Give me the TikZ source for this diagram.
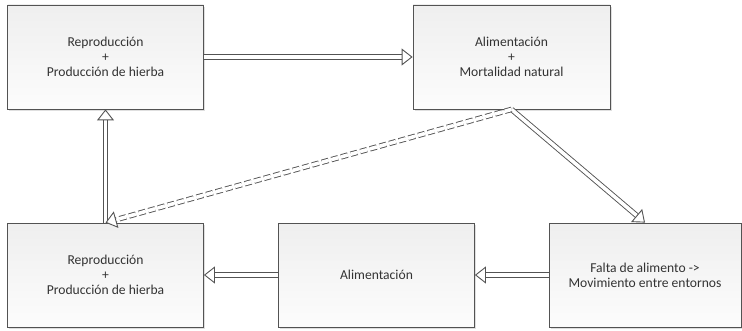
\documentclass[tikz,border=0pt]{standalone}
\usepackage{fontspec}
\setmainfont{Carlito}
\usetikzlibrary{arrows.meta,shadows}

\colorlet{edge}{gray!65!black}

\tikzset{
  stagebox/.style={draw=edge, line width=0.8pt, minimum width=196pt,
    minimum height=104pt, inner sep=0pt, align=center, text=black!80,
    top color=gray!13, bottom color=gray!2,
    drop shadow={shadow xshift=1.6pt, shadow yshift=-1.6pt, opacity=0.25}},
  shaft/.style={draw=edge, line width=0.9pt, double=white, double distance=3.6pt,
    shorten >=5pt},
  shaftdash/.style={shaft, dash pattern=on 7pt off 3pt},
  head/.style={draw=white, line width=1.5pt,
    -{Triangle[open, fill=white, color=edge, line width=0.9pt, length=11pt, width=17pt]}}
}

\begin{document}
\begin{tikzpicture}[x=1pt, y=1pt, font=\fontsize{13.6}{15}\selectfont]

\useasboundingbox (0,0) rectangle (742,330);

\def\rowA{273}   % top row
\def\rowB{55}    % bottom row

% top row
\node[stagebox] (repro1) at (105.5, \rowA) {Reproducción\\+\\Producción de hierba};
\node[stagebox, minimum width=197pt] (alim1) at (511.5, \rowA) {Alimentación\\+\\Mortalidad natural};

% bottom row
\node[stagebox] (repro2) at (105.5, \rowB) {Reproducción\\+\\Producción de hierba};
\node[stagebox] (alim2) at (376.5, \rowB) {Alimentación};
\node[stagebox, minimum width=192pt] (falta) at (645, \rowB) {Falta de alimento ->\\Movimiento entre entornos};

% connectors: double shaft, then open head on top
\foreach \from/\to/\kind in {repro1.east/alim1.west/shaft,
    alim1.south/falta.north/shaft,
    falta.west/alim2.east/shaft,
    alim2.west/repro2.east/shaft,
    repro2.north/repro1.south/shaft,
    alim1.south/repro2.north/shaftdash}
{
  \draw[\kind] (\from) -- (\to);
  \draw[head] (\from) -- (\to);
}

\end{tikzpicture}
\end{document}
